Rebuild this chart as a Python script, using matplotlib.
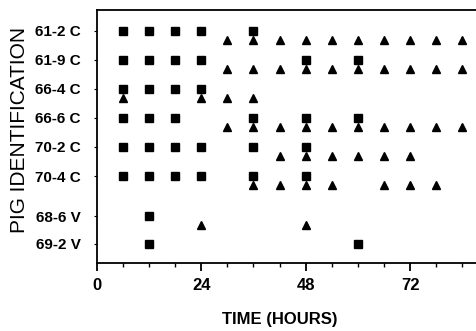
import matplotlib
matplotlib.use('Agg')
from matplotlib import pyplot as plt
from matplotlib.ticker import MultipleLocator

plt.rcParams['font.family'] = ['Liberation Sans', 'DejaVu Sans']

# pig rows, top to bottom, with their vertical positions on the chart
pigs = ['61-2 C', '61-9 C', '66-4 C', '66-6 C', '70-2 C', '70-4 C', '68-6 V', '69-2 V']
row_pos = [8, 7, 6, 5, 4, 3, 1.62, 0.66]

# sampling times (hours) per pig, squares and triangles
square_hours = [
    [6, 12, 18, 24, 36],
    [6, 12, 18, 24, 48, 60],
    [6, 12, 18, 24],
    [6, 12, 18, 36, 48, 60],
    [6, 12, 18, 24, 36, 48],
    [6, 12, 18, 24, 36, 48],
    [12],
    [12, 60],
]
triangle_hours = [
    [30, 36, 42, 48, 54, 60, 66, 72, 78, 84],
    [30, 36, 42, 48, 54, 60, 66, 72, 78, 84],
    [6, 24, 30, 36],
    [30, 36, 42, 48, 54, 60, 66, 72, 78, 84],
    [42, 48, 54, 60, 66, 72],
    [36, 42, 48, 54, 66, 72, 78],
    [24, 48],
    [],
]

fig = plt.figure(figsize=(4.77, 3.31), dpi=100)
ax = fig.add_axes([0.203, 0.205, 0.797, 0.765])

for y, sq, tr in zip(row_pos, square_hours, triangle_hours):
    ax.plot(sq, [y] * len(sq), 's', color='black', markersize=5.2, linestyle='none')
    ax.plot(tr, [y - 0.32] * len(tr), '^', color='black', markersize=6, linestyle='none')

ax.set_xlim(0, 87.4)
ax.set_ylim(0, 8.72)
ax.spines['right'].set_visible(False)
for s in ['left', 'bottom', 'top']:
    ax.spines[s].set_linewidth(1.3)

ax.xaxis.set_major_locator(MultipleLocator(24))
ax.xaxis.set_minor_locator(MultipleLocator(6))
ax.tick_params(axis='x', which='major', length=6, width=1.3, pad=5, labelsize=12)
ax.tick_params(axis='x', which='minor', length=3, width=1)
ax.set_xticks([0, 24, 48, 72])
ax.set_xticklabels(['0', '24', '48', '72'], fontweight='bold')

ax.set_yticks(row_pos)
ax.set_yticklabels(pigs, fontweight='bold')
ax.tick_params(axis='y', length=2, width=0.8, pad=9.5, labelsize=11)

ax.set_xlabel('TIME (HOURS)', fontsize=12, fontweight='bold')
ax.set_ylabel('PIG IDENTIFICATION', fontsize=15)
ax.yaxis.set_label_coords(-0.179, 0.526)
ax.xaxis.set_label_coords(0.482, -0.194)

fig.savefig('out.png', dpi=100)
